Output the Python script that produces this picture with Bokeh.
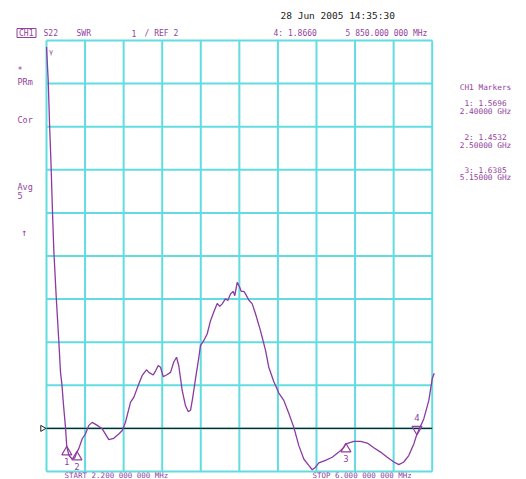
import numpy as np
from bokeh.plotting import figure
from bokeh.models import Range1d
from bokeh.embed import file_html
from bokeh.resources import INLINE
from bokeh.core.properties import value

# ---------------- data ----------------
freq_ghz = [2.200, 2.217, 2.230, 2.246, 2.259, 2.272, 2.296, 2.321, 2.338, 2.351,
            2.368, 2.387, 2.400, 2.422, 2.453, 2.476, 2.500, 2.518, 2.552, 2.584,
            2.617, 2.650, 2.700, 2.749, 2.814, 2.863, 2.912, 2.946, 2.978, 3.028,
            3.060, 3.109, 3.143, 3.185, 3.208, 3.251, 3.274, 3.301, 3.323, 3.350,
            3.382, 3.422, 3.454, 3.481, 3.503, 3.537, 3.569, 3.596, 3.619, 3.641,
            3.668, 3.701, 3.717, 3.750, 3.783, 3.816, 3.848, 3.882, 3.907, 3.931,
            3.964, 3.986, 4.013, 4.039, 4.055, 4.079, 4.102, 4.118, 4.144, 4.161,
            4.193, 4.227, 4.259, 4.308, 4.358, 4.390, 4.439, 4.489, 4.538, 4.587,
            4.636, 4.686, 4.735, 4.784, 4.818, 4.850, 4.883, 4.949, 5.015, 5.080,
            5.129, 5.150, 5.228, 5.294, 5.360, 5.425, 5.491, 5.557, 5.622, 5.671,
            5.720, 5.769, 5.819, 5.850, 5.917, 5.967, 6.000, 6.020]
swr = [10.85, 10.07, 9.07, 8.03, 7.02, 6.13, 5.04, 4.04, 3.30, 3.04,
       2.53, 2.03, 1.57, 1.37, 1.29, 1.31, 1.45, 1.53, 1.76, 1.87,
       2.07, 2.14, 2.07, 1.99, 1.74, 1.77, 1.87, 1.95, 2.14, 2.61,
       2.72, 3.03, 3.23, 3.36, 3.30, 3.24, 3.33, 3.46, 3.42, 3.20,
       3.24, 3.30, 3.54, 3.65, 3.46, 2.88, 2.53, 2.39, 2.42, 2.72,
       3.15, 3.65, 3.92, 4.04, 4.19, 4.50, 4.70, 4.90, 4.83, 4.89,
       5.01, 4.97, 5.12, 5.18, 5.08, 5.39, 5.28, 5.18, 5.18, 5.12,
       4.98, 4.89, 4.66, 4.27, 3.81, 3.42, 3.09, 2.82, 2.65, 2.35,
       2.03, 1.60, 1.29, 1.14, 1.04, 1.10, 1.20, 1.26, 1.33, 1.45,
       1.56, 1.64, 1.70, 1.70, 1.66, 1.55, 1.45, 1.33, 1.22, 1.16,
       1.22, 1.37, 1.64, 1.87, 2.22, 2.65, 3.15, 3.28]

marker_ids = ["1", "2", "3"]
marker_freq = [2.40, 2.50, 5.15]
marker_swr = [1.5696, 1.4532, 1.6385]
active_id = ["4"]
active_freq = [5.85]
active_swr = [1.8660]

x_grid = [2.20, 2.58, 2.96, 3.34, 3.72, 4.10, 4.48, 4.86, 5.24, 5.62, 6.00]
y_grid = [1, 2, 3, 4, 5, 6, 7, 8, 9, 10, 11]
ref_value = 2.0
start_ghz, stop_ghz = 2.2, 6.0
swr_min, swr_max = 1, 11

header_date = "28 Jun 2005  14:35:30"
marker_lines = ["CH1 Markers", "1: 1.5696", "2.40000 GHz", "2: 1.4532", "2.50000 GHz",
                "3: 1.6385", "5.15000 GHz"]

# ---------------- layout ----------------
W, H = 526, 479
GX0 = 46.0      # px of start frequency
PXG = 101.5     # px per GHz
GY0 = 471.0     # px (from top) of SWR 1
PXU = 43.1      # px per SWR unit

PURPLE = "#933F9E"
TRACE = "#8A3AA2"
CYAN = "#62DCE0"
MONO = value("DejaVu Sans Mono")

def dx(px):
    return start_ghz + (px - GX0) / PXG

def dy(py):
    return swr_min + (GY0 - py) / PXU

p = figure(width=W, height=H, output_backend="svg", toolbar_location=None,
           x_range=Range1d(start_ghz - GX0 / PXG, start_ghz + (W - GX0) / PXG),
           y_range=Range1d(swr_min - (H - GY0) / PXU, swr_min + GY0 / PXU),
           x_axis_type=None, y_axis_type=None, min_border=0)
p.outline_line_color = None
p.background_fill_color = "white"

# grid
p.segment(x0=x_grid, y0=[swr_min] * len(x_grid), x1=x_grid, y1=[swr_max] * len(x_grid),
          line_color=CYAN, line_width=2)
p.segment(x0=[start_ghz] * len(y_grid), y0=y_grid, x1=[stop_ghz] * len(y_grid), y1=y_grid,
          line_color=CYAN, line_width=2)

# reference line
p.segment(x0=[start_ghz], y0=[ref_value], x1=[stop_ghz], y1=[ref_value],
          line_color="#222222", line_width=1.4)
p.scatter(x=[dx(42)], y=[ref_value], marker="triangle", angle=-np.pi / 2, size=6,
          fill_color="white", line_color="#222222", line_width=1)

# trace
p.line(freq_ghz, swr, line_color=TRACE, line_width=1.3)

# markers
p.scatter(x=marker_freq, y=[s - 5 / PXU for s in marker_swr], marker="triangle", size=10,
          fill_color=None, line_color=PURPLE, line_width=1.2)
p.text(x=marker_freq, y=[s - 15 / PXU for s in marker_swr], text=marker_ids,
       text_font=MONO, text_font_size="9px", text_color=PURPLE,
       text_align="center", text_baseline="middle")
p.scatter(x=active_freq, y=[s + 5 / PXU for s in active_swr], marker="inverted_triangle",
          size=10, fill_color=None, line_color=PURPLE, line_width=1.2)
p.text(x=active_freq, y=[s + 17 / PXU for s in active_swr], text=active_id,
       text_font=MONO, text_font_size="9px", text_color=PURPLE,
       text_align="center", text_baseline="middle")
p.text(x=[dx(50.5)], y=[dy(51)], text=["γ"], text_font=MONO, text_font_size="7px",
       text_color=PURPLE, text_align="center", text_baseline="middle")

# header texts
p.text(x=[dx(280)], y=[dy(15)], text=[header_date], text_font=MONO, text_font_size="9.5px",
       text_color="#222222", text_align="left", text_baseline="middle")
hx = [18.5, 43, 76, 131, 144, 273, 345]
htxt = ["CH1", "S22", "SWR", "1", "/ REF 2", "4: 1.8660", "5 850.000 000 MHz"]
p.text(x=[dx(v) for v in hx], y=[dy(32.5)] * len(hx), text=htxt, text_font=MONO,
       text_font_size="8px", text_color=PURPLE, text_align="left", text_baseline="middle")
p.quad(left=[dx(16.5)], right=[dx(35.5)], top=[dy(28)], bottom=[dy(37)],
       fill_color=None, line_color=PURPLE, line_width=1)

# left annotations
lx = [17, 17, 17, 17, 17]
ly = [69.5, 81.7, 119.5, 186.5, 195]
ltxt = ["*", "PRm", "Cor", "Avg", "5"]
p.text(x=[dx(v) for v in lx], y=[dy(v) for v in ly], text=ltxt, text_font=MONO,
       text_font_size="8.5px", text_color=PURPLE, text_align="left", text_baseline="middle")
p.text(x=[dx(23.5)], y=[dy(232)], text=["↑"], text_font=MONO, text_font_size="10px",
       text_color=PURPLE, text_align="center", text_baseline="middle")

# right marker table
ry = [86.7, 103.0, 110.6, 137.0, 144.6, 169.7, 177.3]
p.text(x=[dx(485)] * len(ry), y=[dy(v) for v in ry], text=marker_lines, text_font=MONO,
       text_font_size="7.8px", text_color=PURPLE, text_align="center", text_baseline="middle")

# start / stop
p.text(x=[dx(64), dx(312)], y=[dy(479)] * 2,
       text=["START 2.200 000 000 MHz", "STOP 6.000 000 000 MHz"], text_font=MONO,
       text_font_size="7.5px", text_color=PURPLE, text_align="left", text_baseline="bottom")

open("out.html", "w").write(file_html(p, INLINE))
